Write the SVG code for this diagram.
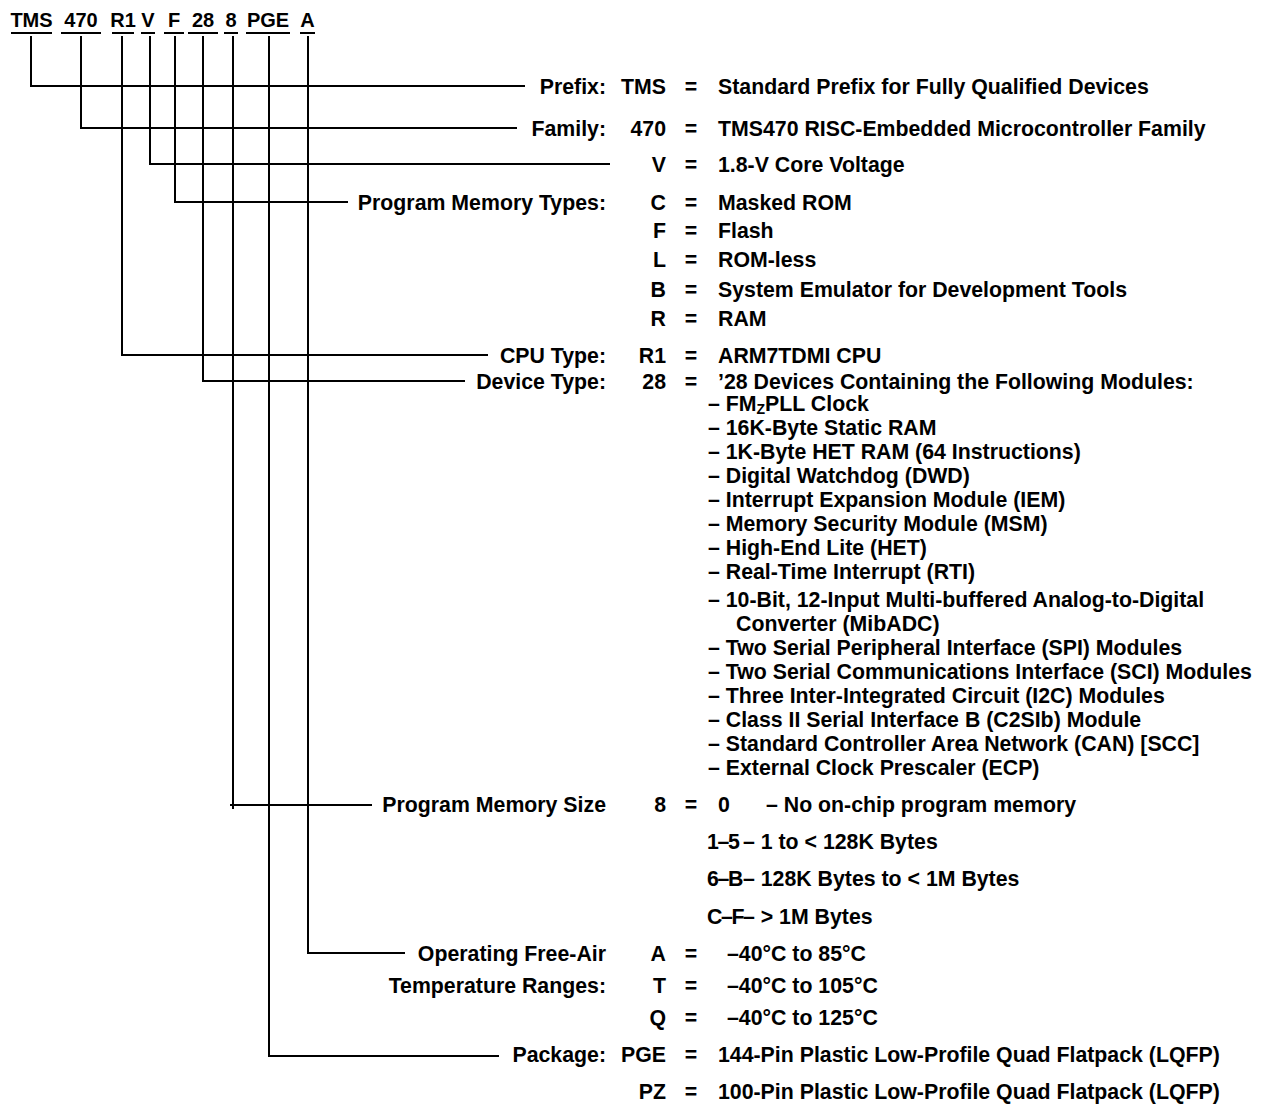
<svg xmlns="http://www.w3.org/2000/svg" width="1264" height="1104" viewBox="0 0 1264 1104">
<style>
text{font-family:"Liberation Sans",Arial,sans-serif;font-weight:bold;fill:#000}
.b{font-size:21.3px}
.h{font-size:20px;text-anchor:middle}
.e{text-anchor:end}
.m{text-anchor:middle}
.n{letter-spacing:-1.3px}
.c{fill:none;stroke:#000;stroke-width:2;stroke-linejoin:miter;stroke-linecap:butt}
</style>
<rect width="1264" height="1104" fill="#fff"/>
<g id="header">
<text class="h" x="31.5" y="27">TMS</text>
<text class="h" x="81" y="27">470</text>
<text class="h" x="123" y="27">R1</text>
<text class="h" x="148" y="27">V</text>
<text class="h" x="174" y="27">F</text>
<text class="h" x="203" y="27">28</text>
<text class="h" x="231" y="27">8</text>
<text class="h" x="268" y="27">PGE</text>
<text class="h" x="307.5" y="27">A</text>
<path class="c" d="M11 33H52M61 33H101M112 33H134M141 33H155M164 33H184M188 33H218M224 33H238M246 33H290M300 33H315"/>
</g>
<g id="connectors">
<path class="c" d="M31 36V86H525"/>
<path class="c" d="M81 36V128H517"/>
<path class="c" d="M122 36V355H488"/>
<path class="c" d="M150 36V164H610"/>
<path class="c" d="M175 36V202H348"/>
<path class="c" d="M203 36V381H465"/>
<path class="c" d="M233 36V809M230 805H372"/>
<path class="c" d="M269 36V1056H499"/>
<path class="c" d="M308 36V953H405"/>
</g>
<g id="prefix">
<text class="b e" x="606" y="93.5">Prefix:</text>
<text class="b e" x="666" y="93.5">TMS</text>
<text class="b m" x="691" y="93.5">=</text>
<text class="b" x="718" y="93.5">Standard Prefix for Fully Qualified Devices</text>
</g>
<g id="family">
<text class="b e" x="606" y="135.5">Family:</text>
<text class="b e" x="666" y="135.5">470</text>
<text class="b m" x="691" y="135.5">=</text>
<text class="b" x="718" y="135.5">TMS470 RISC-Embedded Microcontroller Family</text>
</g>
<g id="voltage">
<text class="b e" x="666" y="171.5">V</text>
<text class="b m" x="691" y="171.5">=</text>
<text class="b" x="718" y="171.5">1.8-V Core Voltage</text>
</g>
<g id="memory-types">
<text class="b e" x="606" y="209.5">Program Memory Types:</text>
<text class="b e" x="666" y="209.5">C</text>
<text class="b m" x="691" y="209.5">=</text>
<text class="b" x="718" y="209.5">Masked ROM</text>
<text class="b e" x="666" y="237.5">F</text>
<text class="b m" x="691" y="237.5">=</text>
<text class="b" x="718" y="237.5">Flash</text>
<text class="b e" x="666" y="266.5">L</text>
<text class="b m" x="691" y="266.5">=</text>
<text class="b" x="718" y="266.5">ROM-less</text>
<text class="b e" x="666" y="296.5">B</text>
<text class="b m" x="691" y="296.5">=</text>
<text class="b" x="718" y="296.5">System Emulator for Development Tools</text>
<text class="b e" x="666" y="325.5">R</text>
<text class="b m" x="691" y="325.5">=</text>
<text class="b" x="718" y="325.5">RAM</text>
</g>
<g id="cpu-type">
<text class="b e" x="606" y="362.5">CPU Type:</text>
<text class="b e" x="666" y="362.5">R1</text>
<text class="b m" x="691" y="362.5">=</text>
<text class="b" x="718" y="362.5">ARM7TDMI CPU</text>
</g>
<g id="device-type">
<text class="b e" x="606" y="388.5">Device Type:</text>
<text class="b e" x="666" y="388.5">28</text>
<text class="b m" x="691" y="388.5">=</text>
<text class="b" x="718" y="388.5">’28 Devices Containing the Following Modules:</text>
<text class="b" x="708" y="410.5">– FM<tspan font-size="14" dy="3.5">Z</tspan><tspan dy="-3.5">PLL Clock</tspan></text>
<text class="b" x="708" y="434.5">– 16K-Byte Static RAM</text>
<text class="b" x="708" y="458.5">– 1K-Byte HET RAM (64 Instructions)</text>
<text class="b" x="708" y="482.5">– Digital Watchdog (DWD)</text>
<text class="b" x="708" y="506.5">– Interrupt Expansion Module (IEM)</text>
<text class="b" x="708" y="530.5">– Memory Security Module (MSM)</text>
<text class="b" x="708" y="554.5">– High-End Lite (HET)</text>
<text class="b" x="708" y="578.5">– Real-Time Interrupt (RTI)</text>
<text class="b" x="708" y="606.5">– 10-Bit, 12-Input Multi-buffered Analog-to-Digital</text>
<text class="b" x="736" y="630.5">Converter (MibADC)</text>
<text class="b" x="708" y="654.5">– Two Serial Peripheral Interface (SPI) Modules</text>
<text class="b" x="708" y="678.5">– Two Serial Communications Interface (SCI) Modules</text>
<text class="b" x="708" y="702.5">– Three Inter-Integrated Circuit (I2C) Modules</text>
<text class="b" x="708" y="726.5">– Class II Serial Interface B (C2SIb) Module</text>
<text class="b" x="708" y="750.5">– Standard Controller Area Network (CAN) [SCC]</text>
<text class="b" x="708" y="774.5">– External Clock Prescaler (ECP)</text>
</g>
<g id="memory-size">
<text class="b e" x="606" y="811.5">Program Memory Size</text>
<text class="b e" x="666" y="811.5">8</text>
<text class="b m" x="691" y="811.5">=</text>
<text class="b" x="718" y="811.5">0</text>
<text class="b" x="766" y="811.5">– No on-chip program memory</text>
<text class="b n" x="707" y="848.5">1–5</text>
<text class="b" x="743" y="848.5">– 1 to &lt; 128K Bytes</text>
<text class="b n" x="707" y="885.5">6–B</text>
<text class="b" x="743" y="885.5">– 128K Bytes to &lt; 1M Bytes</text>
<text class="b n" x="707" y="923.5">C–F</text>
<text class="b" x="743" y="923.5">– &gt; 1M Bytes</text>
</g>
<g id="temperature">
<text class="b e" x="606" y="961">Operating Free-Air</text>
<text class="b e" x="666" y="961">A</text>
<text class="b m" x="691" y="961">=</text>
<text class="b" x="727" y="961">–40°C to 85°C</text>
<text class="b e" x="606" y="993">Temperature Ranges:</text>
<text class="b e" x="666" y="993">T</text>
<text class="b m" x="691" y="993">=</text>
<text class="b" x="727" y="993">–40°C to 105°C</text>
<text class="b e" x="666" y="1025">Q</text>
<text class="b m" x="691" y="1025">=</text>
<text class="b" x="727" y="1025">–40°C to 125°C</text>
</g>
<g id="package">
<text class="b e" x="606" y="1062">Package:</text>
<text class="b e" x="666" y="1062">PGE</text>
<text class="b m" x="691" y="1062">=</text>
<text class="b" x="718" y="1062">144-Pin Plastic Low-Profile Quad Flatpack (LQFP)</text>
<text class="b e" x="666" y="1099">PZ</text>
<text class="b m" x="691" y="1099">=</text>
<text class="b" x="718" y="1099">100-Pin Plastic Low-Profile Quad Flatpack (LQFP)</text>
</g>
</svg>
